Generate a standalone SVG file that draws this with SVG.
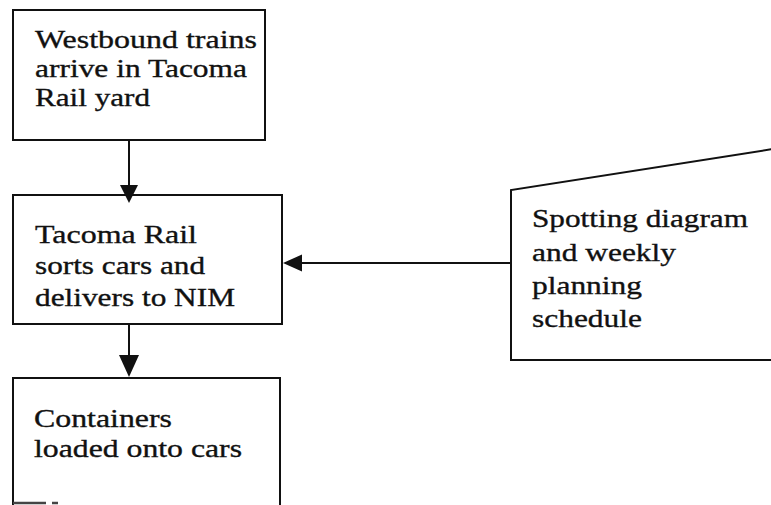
<svg xmlns="http://www.w3.org/2000/svg" width="771" height="505" viewBox="0 0 771 505">
<style>
.box{fill:#fff;stroke:#111;stroke-width:2}
.t{font-family:"Liberation Serif","Times New Roman",serif;font-size:26px;fill:#111;stroke:#111;stroke-width:0.35}
.c{stroke:#111;stroke-width:2;fill:none}
.h{fill:#111}
</style>
<rect width="771" height="505" fill="#fff"/>
<g id="n1">
<rect class="box" x="13" y="10" width="252" height="130"/>
<text class="t" x="35" y="48" textLength="222" lengthAdjust="spacingAndGlyphs">Westbound trains</text>
<text class="t" x="35" y="77" textLength="212" lengthAdjust="spacingAndGlyphs">arrive in Tacoma</text>
<text class="t" x="35" y="106" textLength="115" lengthAdjust="spacingAndGlyphs">Rail yard</text>
</g>
<g id="n2">
<rect class="box" x="13" y="195" width="269" height="129"/>
<text class="t" x="35" y="243" textLength="162" lengthAdjust="spacingAndGlyphs">Tacoma Rail</text>
<text class="t" x="35" y="274" textLength="170" lengthAdjust="spacingAndGlyphs">sorts cars and</text>
<text class="t" x="35" y="306" textLength="200" lengthAdjust="spacingAndGlyphs">delivers to NIM</text>
</g>
<g id="n3">
<path class="c" d="M13 505 V378 H280 V505"/>
<path d="M13 503 H46 M52 503 H58" stroke="#444" stroke-width="2.5"/>
<text class="t" x="34" y="427" textLength="138" lengthAdjust="spacingAndGlyphs">Containers</text>
<text class="t" x="34" y="457" textLength="208" lengthAdjust="spacingAndGlyphs">loaded onto cars</text>
</g>
<g id="n4">
<path class="c" d="M773 149 L511 190 V360 H773"/>
<text class="t" x="532" y="227" textLength="216" lengthAdjust="spacingAndGlyphs">Spotting diagram</text>
<text class="t" x="532" y="261" textLength="144" lengthAdjust="spacingAndGlyphs">and weekly</text>
<text class="t" x="532" y="294" textLength="110" lengthAdjust="spacingAndGlyphs">planning</text>
<text class="t" x="532" y="327" textLength="110" lengthAdjust="spacingAndGlyphs">schedule</text>
</g>
<g id="connectors">
<path class="c" d="M129 140 V186"/>
<polygon class="h" points="120,185 138,185 129,203"/>
<path class="c" d="M129 324 V356"/>
<polygon class="h" points="119,355 139,355 129,377"/>
<path class="c" d="M511 263 H300"/>
<polygon class="h" points="283,263 302,254.5 302,271.5"/>
</g>
</svg>
